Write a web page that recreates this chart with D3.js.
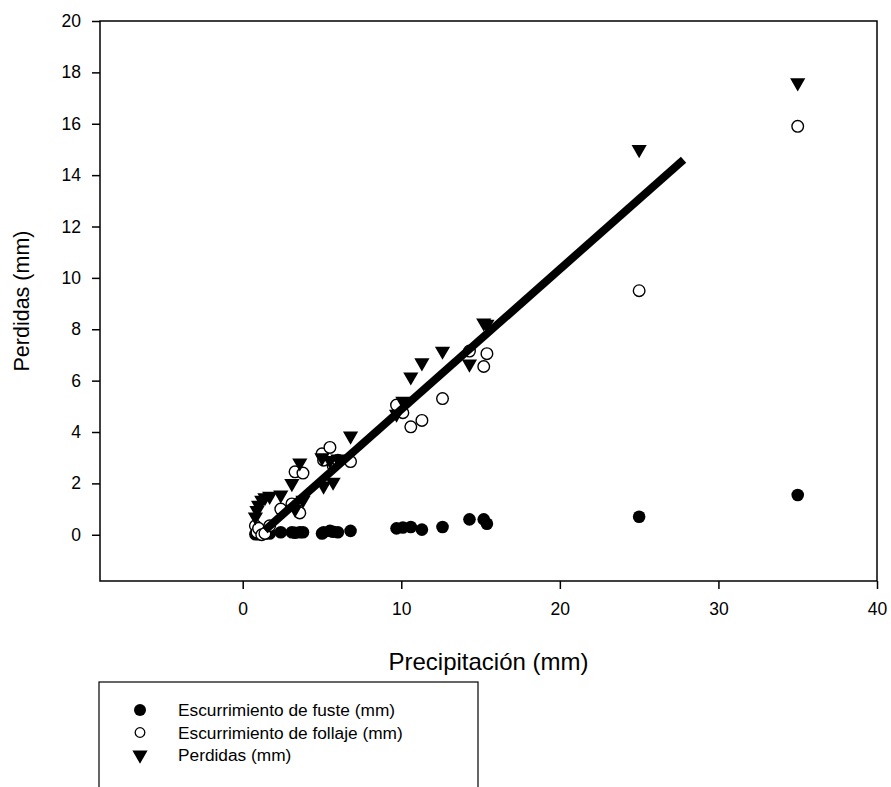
<!DOCTYPE html>
<html>
<head>
<meta charset="utf-8">
<script src="https://cdn.jsdelivr.net/npm/d3@7"></script>
<style>
  body { margin: 0; background: #fff; }
  svg { font-family: "Liberation Sans", Arial, sans-serif; }
</style>
</head>
<body>
<svg id="chart" width="891" height="787"></svg>
<script>
// Precipitation per event (mm), shared by the three series
var precip   = [0.8, 0.9, 1.0, 1.2, 1.4, 1.7, 2.4, 3.1, 3.3, 3.6, 3.8, 5.0, 5.1, 5.5, 5.7, 6.0, 6.8, 9.7, 10.1, 10.6, 11.3, 12.6, 14.3, 15.2, 15.4, 25, 35];
var fuste    = [0.02, 0.05, 0.02, 0.03, 0.05, 0.05, 0.1, 0.1, 0.08, 0.1, 0.1, 0.05, 0.1, 0.15, 0.12, 0.1, 0.15, 0.25, 0.28, 0.3, 0.2, 0.3, 0.6, 0.6, 0.43, 0.7, 1.55];
var follaje  = [0.35, 0.1, 0.25, 0.0, 0.05, 0.35, 1.0, 1.2, 2.45, 0.85, 2.4, 3.15, 2.9, 3.4, 2.7, 2.9, 2.85, 5.05, 4.75, 4.2, 4.45, 5.3, 7.15, 6.55, 7.05, 9.5, 15.9];
var perdidas = [0.7, 0.95, 1.15, 1.35, 1.45, 1.5, 1.55, 2.0, 1.0, 2.8, 1.35, 3.0, 1.9, 2.9, 2.05, 2.95, 3.85, 4.7, 5.2, 6.15, 6.7, 7.15, 6.65, 8.25, 8.2, 15.0, 17.6];

// regression line end points
var fitX = [1.4, 27.8];
var fitY = [0.18, 14.6];

var xTicks = [0, 10, 20, 30, 40];
var yTicks = [0, 2, 4, 6, 8, 10, 12, 14, 16, 18, 20];
var legendLabels = ['Escurrimiento de fuste (mm)', 'Escurrimiento de follaje (mm)', 'Perdidas (mm)'];

var svg = d3.select('#chart');
// plot box (window.top is reserved, so use own names)
var pLeft = 100, pRight = 877, pTop = 21, pBottom = 581;

var x = d3.scaleLinear().domain([-9, 40]).range([pLeft, pRight]);
var y = d3.scaleLinear().domain([-1.8, 20]).range([pBottom, pTop]);

// frame
svg.append('rect')
  .attr('x', pLeft).attr('y', pTop)
  .attr('width', pRight - pLeft).attr('height', pBottom - pTop)
  .attr('fill', 'none').attr('stroke', '#000').attr('stroke-width', 1.5);

var xAxis = svg.append('g')
  .attr('transform', 'translate(0,' + pBottom + ')')
  .call(d3.axisBottom(x).tickValues(xTicks).tickSize(8).tickPadding(14));
var yAxis = svg.append('g')
  .attr('transform', 'translate(' + pLeft + ',0)')
  .call(d3.axisLeft(y).tickValues(yTicks).tickSize(8).tickPadding(11));

[xAxis, yAxis].forEach(function (g) {
  g.select('.domain').remove();
  g.selectAll('line').attr('stroke', '#000').attr('stroke-width', 1.5);
  g.selectAll('text').attr('font-size', 17.5).attr('fill', '#000')
    .attr('font-family', '"Liberation Sans", Arial, sans-serif');
});

// axis titles
svg.append('text')
  .attr('x', (pLeft + pRight) / 2).attr('y', 670)
  .attr('text-anchor', 'middle').attr('font-size', 24)
  .text('Precipitación (mm)');
svg.append('text')
  .attr('transform', 'translate(29,' + ((pTop + pBottom) / 2) + ') rotate(-90)')
  .attr('text-anchor', 'middle').attr('font-size', 21.5)
  .text('Perdidas (mm)');

var plot = svg.append('g');
var tri = d3.symbol().type(d3.symbolTriangle).size(100);

plot.selectAll('circle.fuste')
  .data(precip)
  .enter().append('circle')
  .attr('class', 'fuste')
  .attr('cx', function (d) { return x(d); })
  .attr('cy', function (d, i) { return y(fuste[i]); })
  .attr('r', 6.3)
  .attr('fill', '#000');

plot.selectAll('circle.follaje')
  .data(precip)
  .enter().append('circle')
  .attr('class', 'follaje')
  .attr('cx', function (d) { return x(d); })
  .attr('cy', function (d, i) { return y(follaje[i]); })
  .attr('r', 5.8)
  .attr('fill', '#fff')
  .attr('stroke', '#000').attr('stroke-width', 1.4);

plot.selectAll('path.perdidas')
  .data(precip)
  .enter().append('path')
  .attr('class', 'perdidas')
  .attr('d', tri)
  .attr('transform', function (d, i) {
    return 'translate(' + x(d) + ',' + y(perdidas[i]) + ') rotate(180)';
  })
  .attr('fill', '#000');

// regression line
plot.append('line')
  .attr('x1', x(fitX[0])).attr('y1', y(fitY[0]))
  .attr('x2', x(fitX[1])).attr('y2', y(fitY[1]))
  .attr('stroke', '#000').attr('stroke-width', 8);

// legend
var lg = svg.append('g');
lg.append('rect')
  .attr('x', 99).attr('y', 682).attr('width', 379).attr('height', 130)
  .attr('fill', '#fff').attr('stroke', '#000').attr('stroke-width', 1.2);

var rows = lg.selectAll('g.row')
  .data(legendLabels)
  .enter().append('g')
  .attr('transform', function (d, i) { return 'translate(140,' + (710 + i * 22.5) + ')'; });

rows.append('text')
  .attr('x', 38).attr('dy', '0.35em')
  .attr('font-size', 17.3)
  .text(function (d) { return d; });

rows.filter(function (d, i) { return i === 0; })
  .append('circle').attr('r', 6).attr('fill', '#000');
rows.filter(function (d, i) { return i === 1; })
  .append('circle').attr('r', 4.8).attr('fill', '#fff')
  .attr('stroke', '#000').attr('stroke-width', 1.3);
rows.filter(function (d, i) { return i === 2; })
  .append('path').attr('d', tri).attr('transform', 'rotate(180)').attr('fill', '#000');
</script>
</body>
</html>
